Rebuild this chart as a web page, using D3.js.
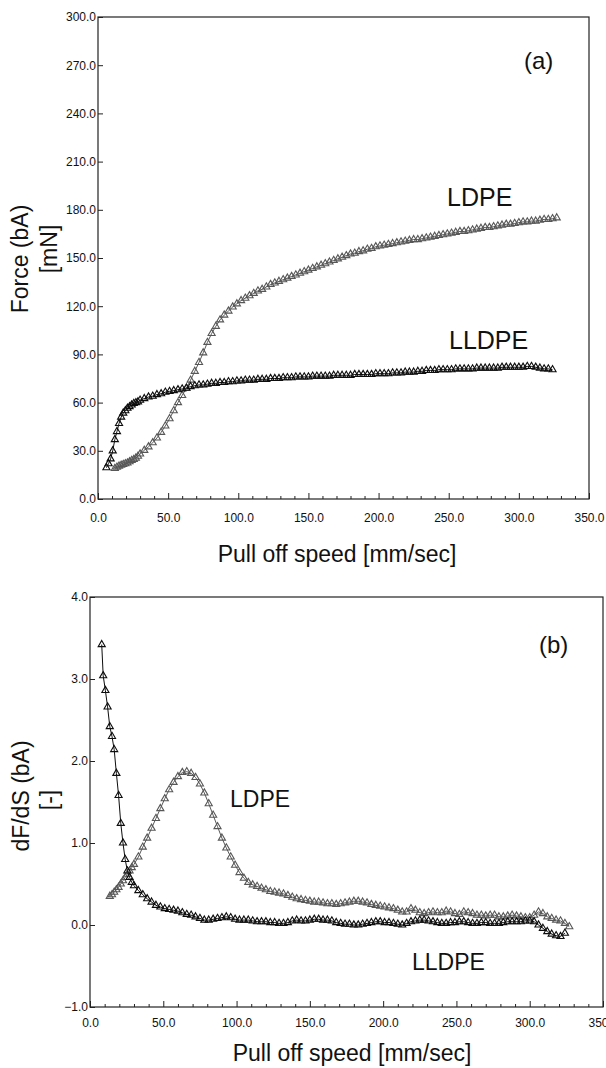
<!DOCTYPE html>
<html><head><meta charset="utf-8">
<script src="https://cdn.jsdelivr.net/npm/d3@7"></script>
<style>
html,body{margin:0;padding:0;background:#fff;}
svg{display:block;font-family:"Liberation Sans",Arial,Helvetica,sans-serif;}
</style></head><body>
<svg id="chart" width="606" height="1068"></svg>
<script>
// ---------- data ----------
const xTickValues = [0,50,100,150,200,250,300,350];
const xMinorTicks = [10,20,30,40,60,70,80,90,110,120,130,140,160,170,180,190,210,220,230,240,260,270,280,290,310,320,330,340];
const forceTicks = [0,30,60,90,120,150,180,210,240,270,300];
const derivTicks = [-1,0,1,2,3,4];

// Panel (a): Force (bA) [mN] vs pull off speed [mm/sec]
const ldpeForce = [[12,19],[13.5,19.8],[15,20.5],[16.5,21],[18,21.5],[19.5,22],[21,22.5],[22.5,23.2],[24,24],[25.5,24.6],[27,25.5],[28.5,26.6],[30,28],
[33,30.3],[36,32.5],[39,35],[42,38],[45,41.5],[48,45.5],[51,50],[54,55],[57,60],[60,64.5],[63,69],[66,74],[69,79.5],[72,85],[75,91],[78,97.5],[81,103],[84,107.5],[87,111.5],[90,114.5],[93,117],[96,119.5],[99,121.5],[102,123.5],[105,125],[108,126.5],[111,128],[114,129.5],[117,130.5],[120,132],[123,133.5],[126,134.5],[129,135.5],[132,136.5],[135,137.5],[138,138.5],[141,139.5],[144,140.5],[147,141.5],[150,142.5],[153,143.5],[156,144.5],[159,145.5],[162,146.5],[165,147.5],[168,148.5],[171,149.5],[174,150.5],[177,151.5],[180,152.5],[183,153],[186,154],[189,154.5],[192,155.5],[195,156],[198,157],[201,157.5],[204,158],[207,158.5],[210,159],[213,159.5],[216,160],[219,160.5],[222,161],[225,161.5],[228,161.5],[231,162],[234,162.5],[237,163],[240,163.5],[243,164],[246,164.5],[249,165],[252,165.5],[255,166],[258,166.5],[261,166.5],[264,167],[267,167.5],[270,168],[273,168.5],[276,169],[279,169],[282,169.5],[285,170],[288,170.5],[291,171],[294,171],[297,171.5],[300,172],[303,172.5],[306,172.5],[309,173],[312,173],[315,173.5],[318,174],[321,174],[324,174.5],[327,175]];

const lldpeForce = [[6,19.5],[7.5,22],[9,25],[10.5,30],[12,37],[13.5,42],[15,47],[16.5,51],[18,53.5],[19.5,55],[21,56.5],[22.5,57.5],[24,58.5],[25.5,59.5],[27,60],[28.5,60.5],[30,61.5],
[33,62.5],[36,63.5],[39,64],[42,65],[45,65.5],[48,66.5],[51,67],[54,67.5],[57,68],[60,68.5],[63,69],[66,70],[69,70.5],[72,71],[75,71],[78,71.5],[81,72],[84,72],[87,72.5],[90,72.5],[93,73],[96,73],[99,73.5],[102,73.5],[105,74],[108,74],[111,74],[114,74.5],[117,74.5],[120,74.5],[123,75],[126,75],[129,75],[132,75.5],[135,75.5],[138,75.5],[141,76],[144,76],[147,76],[150,76],[153,76.5],[156,76.5],[159,76.5],[162,76.5],[165,76.5],[168,77],[171,77],[174,77],[177,77],[180,77],[183,77.5],[186,77.5],[189,77.5],[192,77.5],[195,77.5],[198,78],[201,78],[204,78],[207,78],[210,78.5],[213,78.5],[216,78.5],[219,79],[222,79],[225,79],[228,79.5],[231,79.5],[234,80],[237,80],[240,80],[243,80.5],[246,80.5],[249,80.5],[252,80.5],[255,81],[258,81],[261,81],[264,81],[267,81],[270,81.5],[273,81.5],[276,81.5],[279,81.5],[282,81.5],[285,81.5],[288,82],[291,82],[294,82],[297,82],[300,82],[303,82],[306,82.5],[309,82.5],[312,82],[315,81.5],[318,81],[321,81],[324,80.5]];

// Panel (b): dF/dS (bA) [-] vs pull off speed [mm/sec]
const ldpeDeriv = [[13.5,0.35],[15,0.37],[16.5,0.40],[18,0.43],[19.5,0.46],[21,0.50],[22.5,0.54],[24,0.58],[25.5,0.62],[27,0.66],[28.5,0.70],[30,0.74],[33,0.83],[36,0.95],[39,1.06],[42,1.18],[45,1.30],[48,1.42],[51,1.54],[54,1.65],[57,1.74],[60,1.81],[63,1.86],[66,1.87],[69,1.85],[72,1.80],[75,1.72],[78,1.61],[81,1.48],[84,1.34],[87,1.20],[90,1.06],[93,0.94],[96,0.83],[99,0.73],[102,0.64],[105,0.57],[108,0.52],[111,0.49],[114,0.47],[117,0.45],[120,0.43],[123,0.41],[126,0.40],[129,0.39],[132,0.38],[135,0.36],[138,0.34],[141,0.32],[144,0.31],[147,0.30],[150,0.29],[153,0.28],[156,0.28],[159,0.27],[162,0.26],[165,0.26],[168,0.25],[171,0.26],[174,0.27],[177,0.28],[180,0.29],[183,0.29],[186,0.28],[189,0.27],[192,0.25],[195,0.24],[198,0.23],[201,0.22],[204,0.21],[207,0.20],[210,0.18],[213,0.16],[216,0.16],[219,0.20],[222,0.18],[225,0.15],[228,0.14],[231,0.15],[234,0.16],[237,0.15],[240,0.15],[243,0.17],[246,0.16],[249,0.14],[252,0.13],[255,0.16],[258,0.15],[261,0.14],[264,0.12],[267,0.12],[270,0.11],[273,0.12],[276,0.12],[279,0.10],[282,0.10],[285,0.11],[288,0.12],[291,0.11],[294,0.10],[297,0.09],[300,0.09],[303,0.12],[306,0.16],[309,0.14],[312,0.10],[315,0.08],[318,0.06],[321,0.05],[324,0.02],[327,-0.02]];

const lldpeDeriv = [[8,3.42],[9,3.04],[10.5,2.86],[12,2.66],[13.5,2.42],[15,2.30],[16.5,2.14],[18,1.85],[19.5,1.58],[21,1.24],[22.5,1.0],[24,0.80],[25.5,0.66],[27,0.58],[28.5,0.52],[30,0.48],[33,0.42],[36,0.37],[39,0.32],[42,0.28],[45,0.24],[48,0.22],[51,0.20],[54,0.19],[57,0.18],[60,0.17],[63,0.15],[66,0.13],[69,0.12],[72,0.10],[75,0.08],[78,0.06],[81,0.06],[84,0.07],[87,0.08],[90,0.09],[93,0.10],[96,0.09],[99,0.07],[102,0.06],[105,0.06],[108,0.06],[111,0.05],[114,0.04],[117,0.04],[120,0.04],[123,0.03],[126,0.03],[129,0.02],[132,0.02],[135,0.03],[138,0.05],[141,0.06],[144,0.05],[147,0.05],[150,0.06],[153,0.07],[156,0.07],[159,0.06],[162,0.06],[165,0.05],[168,0.03],[171,0.02],[174,0.01],[177,0.01],[180,0.0],[183,0.0],[186,0.01],[189,0.02],[192,0.03],[195,0.04],[198,0.04],[201,0.03],[204,0.03],[207,0.02],[210,0.01],[213,0.0],[216,0.02],[219,0.04],[222,0.05],[225,0.06],[228,0.06],[231,0.05],[234,0.04],[237,0.03],[240,0.02],[243,0.02],[246,0.03],[249,0.03],[252,0.04],[255,0.04],[258,0.03],[261,0.02],[264,0.02],[267,0.03],[270,0.03],[273,0.02],[276,0.02],[279,0.02],[282,0.03],[285,0.04],[288,0.04],[291,0.04],[294,0.04],[297,0.05],[300,0.05],[303,0.04],[306,0.0],[309,-0.04],[312,-0.08],[315,-0.11],[318,-0.13],[321,-0.14],[324,-0.1]];

// ---------- drawing ----------
const svg = d3.select("#chart");
svg.append("rect").attr("width",606).attr("height",1068).attr("fill","#fff");
const FONT = '"Liberation Sans",Arial,Helvetica,sans-serif';
const LDPE_COLOR = "#575757", LLDPE_COLOR = "#0d0d0d";

function drawPanel(p){
  const g = svg.append("g");
  const x = d3.scaleLinear().domain([0,350]).range([p.left,p.right]);
  const y = d3.scaleLinear().domain(p.yDomain).range([p.bottom,p.top]);

  const minor = g.append("g").attr("transform",`translate(0,${p.bottom})`)
    .call(d3.axisBottom(x).tickValues(xMinorTicks).tickSizeInner(-3).tickSizeOuter(0).tickFormat(""));
  minor.select(".domain").remove();
  minor.selectAll("line").attr("stroke","#222");

  const xa = g.append("g").attr("transform",`translate(0,${p.bottom})`)
    .call(d3.axisBottom(x).tickValues(xTickValues).tickSizeInner(-6).tickSizeOuter(0)
      .tickPadding(p.xPad).tickFormat(d3.format(".1f")));
  xa.select(".domain").remove();
  xa.selectAll("line").attr("stroke","#222");
  xa.selectAll("text").attr("font-size",12).attr("font-family",FONT).attr("fill","#111");

  const ya = g.append("g").attr("transform",`translate(${p.left},0)`)
    .call(d3.axisLeft(y).tickValues(p.yTicks).tickSizeInner(-5).tickSizeOuter(0)
      .tickPadding(2).tickFormat(d3.format(".1f")));
  ya.select(".domain").remove();
  ya.selectAll("line").attr("stroke","#222");
  ya.selectAll("text").attr("font-size",12).attr("font-family",FONT).attr("fill","#111");

  g.append("rect").attr("x",p.left).attr("y",p.top)
    .attr("width",p.right-p.left).attr("height",p.bottom-p.top)
    .attr("fill","none").attr("stroke","#222").attr("stroke-width",1.2);

  const line = d3.line().x(d=>x(d[0])).y(d=>y(d[1]));
  const tri = d3.symbol(d3.symbolTriangle, 22);
  p.series.forEach(s=>{
    g.append("path").attr("d",line(s.data)).attr("fill","none")
      .attr("stroke",s.color).attr("stroke-width",1);
    g.append("g").selectAll("path").data(s.data).join("path")
      .attr("d",tri)
      .attr("transform",d=>`translate(${x(d[0])},${y(d[1])})`)
      .attr("fill","none").attr("stroke",s.color).attr("stroke-width",1.1);
  });

  g.append("text").attr("x",p.xTitle[0]).attr("y",p.xTitle[1]).attr("text-anchor","middle")
    .attr("font-size",23).attr("font-family",FONT).attr("fill","#111").text("Pull off speed [mm/sec]");
  p.yTitles.forEach(t=>{
    g.append("text").attr("transform",`translate(${t.x},${t.y}) rotate(-90)`)
      .attr("text-anchor","middle").attr("font-size",23).attr("font-family",FONT)
      .attr("fill","#111").text(t.text);
  });
  p.labels.forEach(t=>{
    g.append("text").attr("x",t.x).attr("y",t.y).attr("font-size",t.size)
      .attr("font-family",FONT).attr("fill","#111").text(t.text);
  });
}

drawPanel({
  left:98, right:589, top:17, bottom:499,
  yDomain:[0,300], yTicks:forceTicks, xPad:14,
  series:[{data:ldpeForce,color:LDPE_COLOR},{data:lldpeForce,color:LLDPE_COLOR}],
  xTitle:[337,562],
  yTitles:[{x:28,y:259,text:"Force (bA)"},{x:57,y:249,text:"[mN]"}],
  labels:[{x:524,y:69,size:24,text:"(a)"},{x:447,y:206,size:25,text:"LDPE"},{x:449,y:349,size:25,text:"LLDPE"}]
});

drawPanel({
  left:90, right:603, top:597, bottom:1007,
  yDomain:[-1,4], yTicks:derivTicks, xPad:11,
  series:[{data:ldpeDeriv,color:LDPE_COLOR},{data:lldpeDeriv,color:LLDPE_COLOR}],
  xTitle:[352,1061],
  yTitles:[{x:29,y:796,text:"dF/dS (bA)"},{x:57,y:800,text:"[-]"}],
  labels:[{x:539,y:653,size:24,text:"(b)"},{x:230,y:807,size:23,text:"LDPE"},{x:412,y:970,size:23,text:"LLDPE"}]
});
</script>
</body></html>
